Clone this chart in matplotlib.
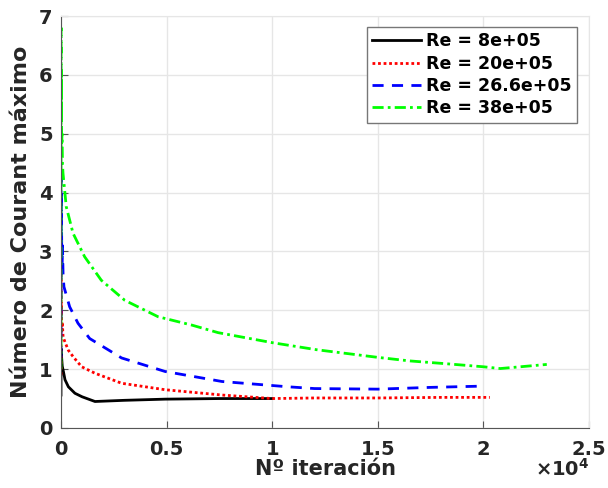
import matplotlib
matplotlib.use("Agg")
from matplotlib import pyplot as plt

plt.rcParams['font.family'] = ['DejaVu Sans']
plt.rcParams['font.weight'] = 'bold'

# iteraciones y número de Courant máximo
it_8 = [0, 5, 15, 30, 60, 120, 190, 350, 660, 1000, 1610, 3000, 4930, 7500, 10000]
co_8 = [0.56, 1.35, 1.15, 1.2, 1.05, 0.95, 0.82, 0.7, 0.59, 0.53, 0.45, 0.47, 0.49, 0.50, 0.50]

it_20 = [0, 5, 10, 20, 30, 60, 100, 200, 350, 600, 980, 1610, 2870, 4930, 7620, 10000, 12000, 15000, 18000, 20300]
co_20 = [0.9, 2.7, 1.9, 2.1, 1.61, 1.8, 1.55, 1.45, 1.32, 1.2, 1.04, 0.93, 0.76, 0.65, 0.56, 0.50, 0.51, 0.51, 0.52, 0.52]

it_26 = [0, 5, 10, 20, 40, 70, 100, 140, 410, 805, 1360, 2870, 4930, 7620, 10750, 12000, 15000, 17500, 19800]
co_26 = [1.2, 4.4, 3.0, 4.0, 2.7, 3.1, 2.6, 2.4, 2.06, 1.78, 1.52, 1.19, 0.96, 0.79, 0.70, 0.67, 0.66, 0.69, 0.71]

it_38 = [0, 5, 10, 20, 30, 50, 70, 95, 250, 570, 1120, 1910, 3020, 4600, 6180, 7440, 10000, 12100, 15000, 16500, 18300, 20000, 20800, 23000]
co_38 = [1.0, 6.8, 5.2, 6.0, 4.8, 5.0, 4.5, 4.33, 3.76, 3.31, 2.91, 2.51, 2.17, 1.89, 1.75, 1.62, 1.45, 1.33, 1.20, 1.14, 1.09, 1.04, 1.01, 1.08]

labels = ['Re = 8e+05', 'Re = 20e+05', 'Re = 26.6e+05', 'Re = 38e+05']
xticks = [0, 5000, 10000, 15000, 20000, 25000]
xticklabels = ['0', '0.5', '1', '1.5', '2', '2.5']

fig = plt.figure(figsize=(6.08, 4.88), dpi=100)
ax = fig.add_axes([0.1003, 0.123, 0.8685, 0.844])

ax.plot(it_8, co_8, c="black", lw=2, ls='-', label=labels[0])
ax.plot(it_20, co_20, c="red", lw=2, ls=(0, (1, 1)), label=labels[1])
ax.plot(it_26, co_26, c="blue", lw=2, ls=(0, (4, 3)), label=labels[2])
ax.plot(it_38, co_38, c="#00ff00", lw=2, ls=(0, (4, 1.5, 1, 1.5)), label=labels[3])

ax.set_xlim(0, 25000)
ax.set_ylim(0, 7)
ax.set_xticks(xticks)
ax.set_xticklabels(xticklabels)
ax.set_yticks(range(8))
ax.set_yticklabels([str(i) for i in range(8)])

ax.grid(True, color='#e6e6e6', lw=1)
ax.set_axisbelow(True)
for s in ['top', 'right']:
    ax.spines[s].set_color('#e6e6e6')
for s in ['left', 'bottom']:
    ax.spines[s].set_color('#555555')
ax.tick_params(direction='in', length=5, color='#555555', labelsize=14,
               labelcolor='#262626', top=False, right=False)
ax.tick_params(axis='x', pad=9)
ax.tick_params(axis='y', pad=6)

ax.set_xlabel("Nº iteración", fontsize=15, fontweight='bold', color='#262626', labelpad=0)
ax.set_ylabel("Número de Courant máximo", fontsize=16, fontweight='bold', color='#262626', labelpad=6)

# factor de escala del eje x
ax.text(1.0, -0.073, r"$\times\mathbf{10^4}$", transform=ax.transAxes, ha='right', va='top',
        fontsize=14, color='#262626')

leg = ax.legend(loc='upper right', bbox_to_anchor=(0.977, 0.973), fontsize=12.5, fancybox=False,
                edgecolor='#777777', framealpha=1, handlelength=2.8, borderpad=0.3,
                labelspacing=0.25, handletextpad=0.3, borderaxespad=0)
leg.get_frame().set_linewidth(1)
for t in leg.get_texts():
    t.set_fontweight('bold')

plt.savefig("out.png", dpi=100)
